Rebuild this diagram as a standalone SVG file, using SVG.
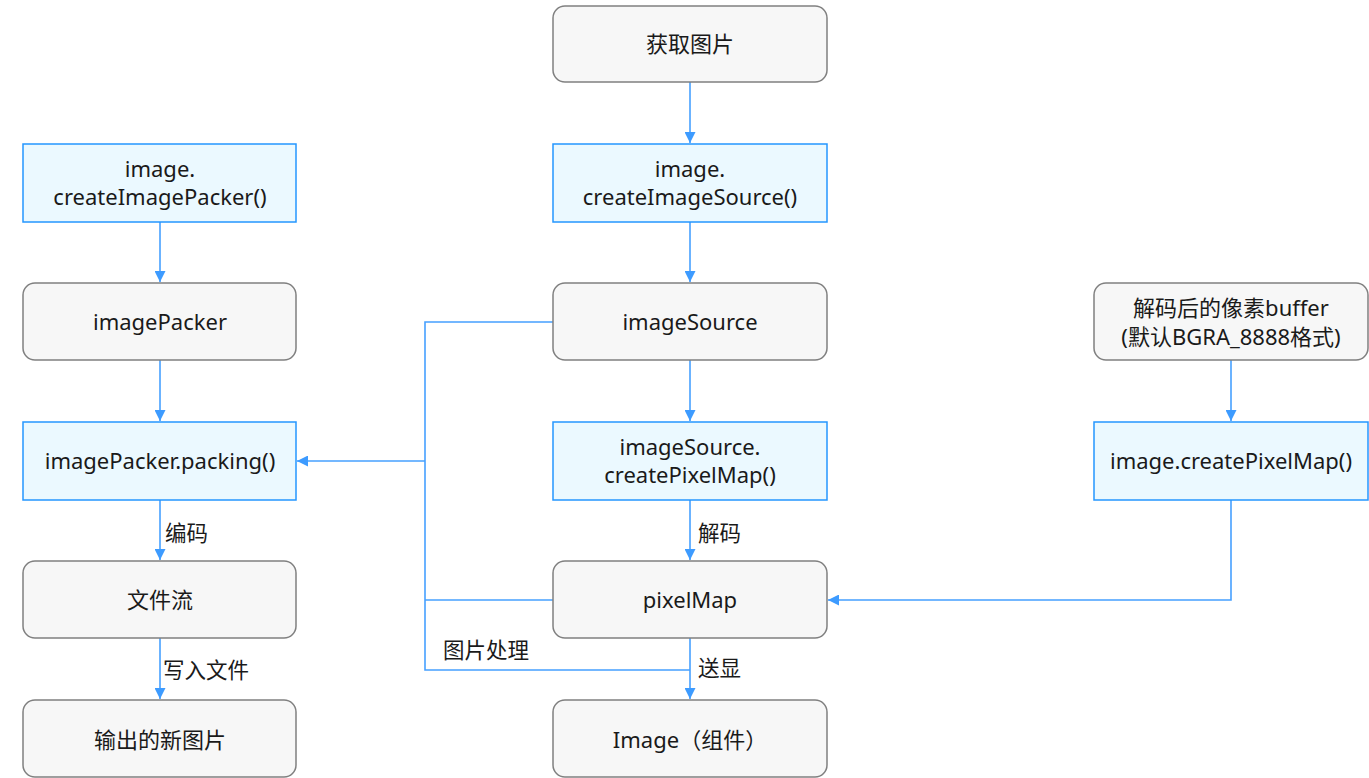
<svg xmlns="http://www.w3.org/2000/svg" width="1369" height="778" viewBox="0 0 1369 778">
<defs>
<marker id="arr" viewBox="0 0 10 10" refX="10" refY="5" markerWidth="11" markerHeight="11" markerUnits="userSpaceOnUse" orient="auto">
<path d="M0,0 L10,5 L0,10 z" fill="#3d9bff"/>
</marker>
<style>
.g{fill:#f7f7f7;stroke:#808080;stroke-width:1.5}
.b{fill:#ebf9ff;stroke:#2596ff;stroke-width:1.5}
.t{font-family:"Noto Sans","Noto Sans CJK SC",sans-serif;font-size:22px;fill:#1a1a1a;text-anchor:middle}
.l{font-family:"Noto Sans","Noto Sans CJK SC",sans-serif;font-size:21.5px;fill:#1a1a1a}
.c{fill:none;stroke:#46a0ff;stroke-width:1.6}
</style>
</defs>
<rect width="1369" height="778" fill="#ffffff"/>
<g id="connectors">
<line class="c" x1="690" y1="82" x2="690" y2="143" marker-end="url(#arr)"/>
<line class="c" x1="690" y1="222" x2="690" y2="282" marker-end="url(#arr)"/>
<line class="c" x1="690" y1="360" x2="690" y2="421" marker-end="url(#arr)"/>
<line class="c" x1="690" y1="500" x2="690" y2="560" marker-end="url(#arr)"/>
<line class="c" x1="690" y1="638" x2="690" y2="699" marker-end="url(#arr)"/>
<line class="c" x1="160" y1="222" x2="160" y2="282" marker-end="url(#arr)"/>
<line class="c" x1="160" y1="360" x2="160" y2="421" marker-end="url(#arr)"/>
<line class="c" x1="160" y1="500" x2="160" y2="560" marker-end="url(#arr)"/>
<line class="c" x1="160" y1="638" x2="160" y2="699" marker-end="url(#arr)"/>
<line class="c" x1="1231" y1="360" x2="1231" y2="421" marker-end="url(#arr)"/>
<polyline class="c" points="1231,500 1231,600 828,600" marker-end="url(#arr)"/>
<polyline class="c" points="553,322 425,322 425,670 690,670"/>
<line class="c" x1="553" y1="600" x2="425" y2="600"/>
<line class="c" x1="425" y1="461" x2="297" y2="461" marker-end="url(#arr)"/>
<text class="l" x="165" y="541">编码</text>
<text class="l" x="163" y="678">写入文件</text>
<text class="l" x="698" y="541">解码</text>
<text class="l" x="698" y="676">送显</text>
<text class="l" x="443" y="658">图片处理</text>
</g>
<g id="n-get"><rect class="g" x="553" y="6" width="274" height="76" rx="12"/><text class="t" x="690" y="52">获取图片</text></g>
<g id="n-createImageSource"><rect class="b" x="553" y="144" width="274" height="78"/><text class="t" x="690" y="177">image.</text><text class="t" x="690" y="205">createImageSource()</text></g>
<g id="n-imageSource"><rect class="g" x="553" y="283" width="274" height="77" rx="12"/><text class="t" x="690" y="330">imageSource</text></g>
<g id="n-createPixelMapSrc"><rect class="b" x="553" y="422" width="274" height="78"/><text class="t" x="690" y="455">imageSource.</text><text class="t" x="690" y="483">createPixelMap()</text></g>
<g id="n-pixelMap"><rect class="g" x="553" y="561" width="274" height="77" rx="12"/><text class="t" x="690" y="608">pixelMap</text></g>
<g id="n-imageComp"><rect class="g" x="553" y="700" width="274" height="77" rx="12"/><text class="t" x="690" y="748">Image（组件）</text></g>
<g id="n-createImagePacker"><rect class="b" x="23" y="144" width="273" height="78"/><text class="t" x="160" y="177">image.</text><text class="t" x="160" y="205">createImagePacker()</text></g>
<g id="n-imagePacker"><rect class="g" x="23" y="283" width="273" height="77" rx="12"/><text class="t" x="160" y="330">imagePacker</text></g>
<g id="n-packing"><rect class="b" x="23" y="422" width="273" height="78"/><text class="t" x="160" y="469">imagePacker.packing()</text></g>
<g id="n-fileStream"><rect class="g" x="23" y="561" width="273" height="77" rx="12"/><text class="t" x="160" y="608">文件流</text></g>
<g id="n-output"><rect class="g" x="23" y="700" width="273" height="77" rx="12"/><text class="t" x="160" y="748">输出的新图片</text></g>
<g id="n-buffer"><rect class="g" x="1094" y="283" width="274" height="77" rx="12"/><text class="t" x="1231" y="316">解码后的像素buffer</text><text class="t" x="1231" y="345">(默认BGRA_8888格式)</text></g>
<g id="n-createPixelMap"><rect class="b" x="1094" y="422" width="274" height="78"/><text class="t" x="1231" y="469">image.createPixelMap()</text></g>
</svg>
